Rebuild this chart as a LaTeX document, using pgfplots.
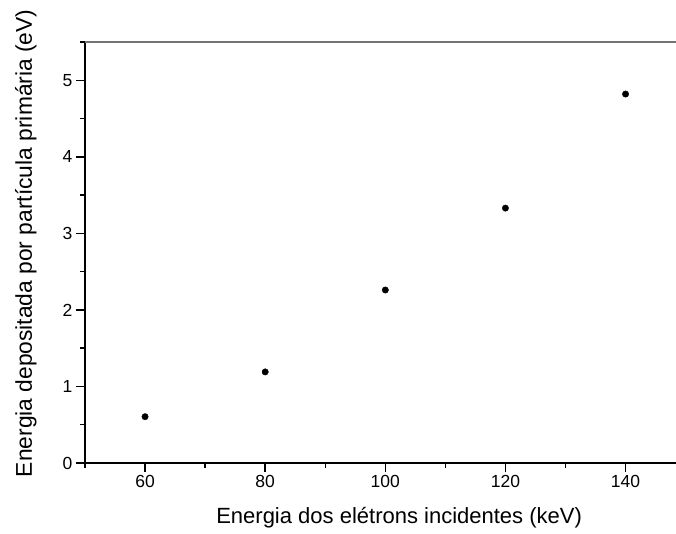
\documentclass[border=0pt]{standalone}
\usepackage{pgfplots}
\pgfplotsset{compat=1.18}
\usepackage{fontspec}
\setmainfont{Liberation Sans}
\newcommand{\tkfont}{\fontsize{17.5}{20}\selectfont}
\begin{document}
\begin{tikzpicture}
\begin{axis}[
  at={(0,0)}, anchor=south west,
  scale only axis,
  width=591pt, height=421pt,
  xmin=50, xmax=148.4, ymin=0, ymax=5.5,
  axis x line*=bottom, axis y line*=left,
  axis line style={line width=1.8pt},
  xtick={60,80,100,120,140}, ytick={0,1,2,3,4,5},
  xticklabels={\tkfont 60,\tkfont 80,\tkfont 100,\tkfont 120,\tkfont 140},
  yticklabels={\tkfont 0,\tkfont 1,\tkfont 2,\tkfont 3,\tkfont 4,\tkfont 5},
  minor xtick={50,70,...,150}, minor ytick={0.5,1.5,...,5.5},
  tick align=outside,
  major tick length=9pt, minor tick length=5pt,
  every tick/.style={black, line width=1.4pt},
  xticklabel style={font=\tkfont},
  yticklabel style={font=\tkfont},
  xlabel={Energia dos elétrons incidentes (keV)},
  ylabel={Energia depositada por partícula primária (eV)},
  xlabel style={font=\fontsize{22}{26}\selectfont, at={([yshift=-60pt]axis cs:102.3,0)}, anchor=base},
  ylabel style={font=\fontsize{22.8}{26}\selectfont, at={([xshift=-53pt]axis cs:50,2.87)}, anchor=base},
  clip=false,
]
\addplot[only marks, mark=*, mark size=3.2pt, black] coordinates {
  (60,0.605) (80,1.19) (100,2.26) (120,3.33) (140,4.82)
};
\draw[black!55, line width=1.5pt] (rel axis cs:0,1) -- (rel axis cs:1,1);
\end{axis}
\pgfresetboundingbox
\path[use as bounding box] (-85pt,-71pt) rectangle (591pt,463pt);
\end{tikzpicture}
\end{document}
